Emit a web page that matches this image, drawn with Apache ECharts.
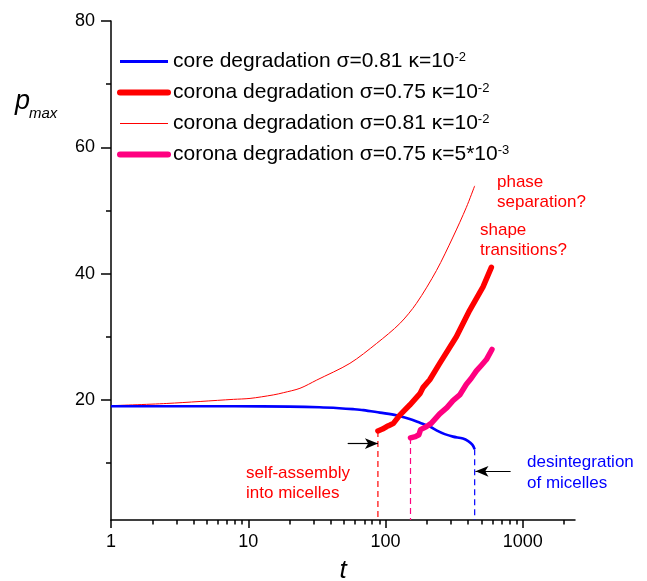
<!DOCTYPE html>
<html>
<head>
<meta charset="utf-8">
<script src="https://cdn.jsdelivr.net/npm/echarts@6/dist/echarts.min.js"></script>
<style>
  html, body { margin: 0; padding: 0; background: #fff; }
  #chart { width: 647px; height: 581px; }
</style>
</head>
<body>
<div id="chart"></div>
<script>
// core degradation sigma=0.81 kappa=1e-2
var tCore = [1, 3, 8, 20, 33, 46, 58, 69, 91, 120, 150, 178, 210, 235, 270, 310, 366, 400, 430, 446];
var pCore = [19.0, 19.0, 19.0, 18.95, 18.85, 18.7, 18.55, 18.4, 18.0, 17.6, 17.0, 16.4, 15.8, 15.2, 14.6, 14.2, 13.9, 13.5, 12.9, 12.2];
// corona degradation sigma=0.75 kappa=1e-2
var tCorona75 = [88, 95, 102, 107, 114, 127, 150, 178, 188, 210, 248, 328, 410, 513, 590];
var pCorona75 = [15.1, 15.4, 15.8, 16.0, 16.3, 17.6, 19.2, 21.0, 22.0, 23.2, 25.8, 30.0, 34.2, 37.9, 41.0];
// corona degradation sigma=0.81 kappa=1e-2
var tCorona81 = [1, 2.55, 7.8, 10.3, 15.2, 18, 23.8, 31.5, 55, 86, 127, 168, 235, 310, 388, 446];
var pCorona81 = [19.1, 19.45, 20.1, 20.25, 20.8, 21.15, 21.85, 23.15, 25.8, 28.95, 32.1, 35.3, 40.5, 45.8, 50.5, 53.9];
// corona degradation sigma=0.75 kappa=5e-3
var tCoronaK5 = [152, 165, 175, 180, 199, 215, 248, 280, 310, 347, 388, 420, 459, 500, 543, 596];
var pCoronaK5 = [14.0, 14.2, 14.5, 15.3, 15.8, 16.3, 17.8, 18.8, 19.9, 20.8, 22.5, 23.4, 24.6, 25.5, 26.4, 28.0];

var xLabels = [1, 10, 100, 1000];
var xMinorTicks = [2, 3, 4, 5, 6, 7, 8, 9, 20, 30, 40, 50, 60, 70, 80, 90, 200, 300, 400, 500, 600, 700, 800, 900, 2000];
var yLabels = [20, 40, 60, 80];
var yMinorTicks = [10, 30, 50, 70];

// dashed drop lines where the curves start / stop
var dropRed = [[88, 15.1], [88, 1]];
var dropPink = [[152, 14.0], [152, 1]];
var dropBlue = [[446, 12.2], [446, 1]];
// arrows [from, to]
var arrowAssembly = [[53, 13.1], [88, 13.1]];
var arrowDesint = [[815, 8.7], [452, 8.7]];

var names = [
  'core degradation σ=0.81 κ=10-2',
  'corona degradation σ=0.75 κ=10-2',
  'corona degradation σ=0.81 κ=10-2',
  'corona degradation σ=0.75 κ=5*10-3'
];
var legendRich = {
  'core degradation σ=0.81 κ=10-2': '{t|core degradation σ=0.81 κ=10}{s|-2}',
  'corona degradation σ=0.75 κ=10-2': '{t|corona degradation σ=0.75 κ=10}{s|-2}',
  'corona degradation σ=0.81 κ=10-2': '{t|corona degradation σ=0.81 κ=10}{s|-2}',
  'corona degradation σ=0.75 κ=5*10-3': '{t|corona degradation σ=0.75 κ=5*10}{s|-3}'
};

function zip(a, b) {
  var out = [];
  for (var i = 0; i < a.length; i++) out.push([a[i], b[i]]);
  return out;
}

var FONT = 'Arial, "Liberation Sans", sans-serif';

var chart = echarts.init(document.getElementById('chart'));

function dropSeries(data, color) {
  return {
    type: 'line',
    data: data,
    symbol: 'none',
    silent: true,
    xAxisIndex: 0,
    yAxisIndex: 0,
    lineStyle: { color: color, width: 1.2, type: [6, 4] },
    z: 1
  };
}

var option = {
  animation: false,
  grid: { left: 111, right: 72, top: 21, bottom: 61, containLabel: false, outerBoundsMode: 'none' },
  legend: {
    orient: 'vertical',
    left: 112,
    top: 46,
    itemWidth: 48,
    itemHeight: 14,
    itemGap: 6,
    selectedMode: false,
    itemStyle: { opacity: 0 },
    data: [
      { name: names[0], lineStyle: { width: 3, color: '#0000ff' } },
      { name: names[1], lineStyle: { width: 6, color: '#ff0000' } },
      { name: names[2], lineStyle: { width: 1, color: '#ff0000' } },
      { name: names[3], lineStyle: { width: 6, color: '#ff0080' } }
    ],
    formatter: function (name) { return legendRich[name]; },
    textStyle: {
      rich: {
        t: { fontFamily: FONT, fontSize: 21, color: '#000', lineHeight: 21 },
        s: { fontFamily: FONT, fontSize: 13, color: '#000', lineHeight: 21, verticalAlign: 'top', padding: [0, 0, 12, 0] }
      }
    }
  },
  xAxis: [{
    type: 'log',
    logBase: 10,
    min: 1,
    max: 2400,
    position: 'bottom',
    name: 't',
    nameLocation: 'middle',
    nameGap: 38,
    nameTextStyle: { fontFamily: FONT, fontSize: 26, fontStyle: 'italic', color: '#000' },
    axisLine: { lineStyle: { color: '#000', width: 1.5 } },
    axisTick: { inside: false, length: 8, customValues: xLabels, lineStyle: { color: '#000', width: 1.5 } },
    axisLabel: {
      customValues: xLabels, fontFamily: FONT, fontSize: 18, color: '#000', margin: 13,
      formatter: function (v) { return String(v); }
    },
    splitLine: { show: false }
  }, {
    type: 'log',
    logBase: 10,
    min: 1,
    max: 2400,
    position: 'bottom',
    offset: 0,
    axisLine: { show: false },
    axisTick: { inside: false, length: 4.5, customValues: xMinorTicks, lineStyle: { color: '#000', width: 1.5 } },
    axisLabel: { show: false },
    splitLine: { show: false }
  }],
  yAxis: [{
    type: 'value',
    min: 1,
    max: 80,
    position: 'left',
    axisLine: { show: true, lineStyle: { color: '#000', width: 1.5 } },
    axisTick: { show: true, inside: false, length: 10, customValues: yLabels, lineStyle: { color: '#000', width: 1.5 } },
    axisLabel: { customValues: yLabels, fontFamily: FONT, fontSize: 18, color: '#000', margin: 16 },
    splitLine: { show: false }
  }, {
    type: 'value',
    min: 1,
    max: 80,
    position: 'left',
    offset: 0,
    axisLine: { show: false },
    axisTick: { show: true, inside: false, length: 5, customValues: yMinorTicks, lineStyle: { color: '#000', width: 1.5 } },
    axisLabel: { show: false },
    splitLine: { show: false }
  }],
  series: [
    {
      name: names[2], type: 'line', data: zip(tCorona81, pCorona81), symbol: 'none', smooth: 0.3,
      lineStyle: { color: '#ff0000', width: 1 }, itemStyle: { color: '#ff0000' }, z: 3
    },
    {
      name: names[0], type: 'line', data: zip(tCore, pCore), symbol: 'none', smooth: 0.3,
      lineStyle: { color: '#0000ff', width: 2.6 }, itemStyle: { color: '#0000ff' }, z: 4
    },
    {
      name: names[1], type: 'line', data: zip(tCorona75, pCorona75), symbol: 'none',
      lineStyle: { color: '#ff0000', width: 5.5, cap: 'round', join: 'round' }, itemStyle: { color: '#ff0000' }, z: 5
    },
    {
      name: names[3], type: 'line', data: zip(tCoronaK5, pCoronaK5), symbol: 'none',
      lineStyle: { color: '#ff0080', width: 5.5, cap: 'round', join: 'round' }, itemStyle: { color: '#ff0080' }, z: 5
    },
    dropSeries(dropRed, '#ff0000'),
    dropSeries(dropPink, '#ff0080'),
    dropSeries(dropBlue, '#0000ff'),
    {
      type: 'line',
      data: [],
      silent: true,
      markLine: {
        silent: true,
        symbol: ['none', 'arrow'],
        symbolSize: [8, 13],
        label: { show: false },
        lineStyle: { color: '#000', width: 1.2, type: 'solid' },
        data: [
          [{ coord: arrowAssembly[0] }, { coord: arrowAssembly[1] }],
          [{ coord: arrowDesint[0] }, { coord: arrowDesint[1] }]
        ]
      }
    }
  ],
  graphic: [
    { type: 'text', left: 15, top: 88, style: { text: 'p', font: 'italic 27px ' + FONT, fill: '#000' } },
    { type: 'text', left: 29, top: 106, style: { text: 'max', font: 'italic 15px ' + FONT, fill: '#000' } },
    { type: 'text', left: 497, top: 172, style: { text: 'phase\nseparation?', font: '17px ' + FONT, fill: '#ff0000', lineHeight: 20 } },
    { type: 'text', left: 480, top: 220, style: { text: 'shape\ntransitions?', font: '17px ' + FONT, fill: '#ff0000', lineHeight: 20 } },
    { type: 'text', left: 246, top: 463, style: { text: 'self-assembly\ninto micelles', font: '17px ' + FONT, fill: '#ff0000', lineHeight: 20 } },
    { type: 'text', left: 527, top: 452, style: { text: 'desintegration\nof micelles', font: '17px ' + FONT, fill: '#0000ff', lineHeight: 21 } }
  ]
};

chart.setOption(option);
</script>
</body>
</html>
